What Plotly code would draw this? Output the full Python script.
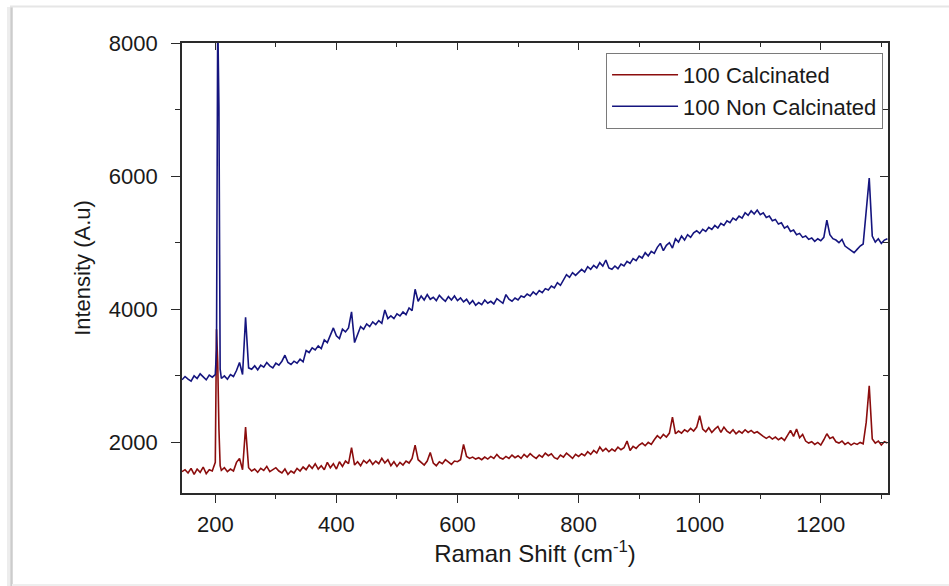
import plotly.graph_objects as go

# Raman shift grid (cm^-1)
raman_shift = (list(range(145, 201, 5)) + [202, 204, 206, 208] + list(range(210, 1311, 5)))

calcinated = [
    1560, 1590, 1540, 1610, 1520, 1600, 1550, 1630, 1530, 1590, 1570, 1700,
    3700, 3200, 2200, 1650,
    1580, 1620, 1560, 1600, 1570, 1700, 1760, 1590, 2230, 1620,
    1570, 1600, 1550, 1610, 1580, 1640, 1560, 1590, 1620, 1570,
    1540, 1600, 1520, 1570, 1540, 1610, 1570, 1630, 1590, 1660,
    1610, 1680, 1600, 1650, 1590, 1700, 1620, 1680, 1600, 1710,
    1640, 1720, 1680, 1920, 1660, 1710, 1650, 1730, 1690, 1740,
    1670, 1720, 1680, 1760, 1690, 1740, 1650, 1710, 1640, 1700,
    1660, 1720, 1690, 1760, 1960, 1740, 1700, 1660, 1720, 1850,
    1690, 1650, 1710, 1680, 1740, 1700, 1670, 1720, 1710, 1740,
    1970, 1790, 1760, 1780, 1750, 1770, 1740, 1780, 1750, 1790,
    1760, 1820, 1770, 1750, 1790, 1760, 1810, 1770, 1800, 1760,
    1820, 1780, 1830, 1790, 1760, 1810, 1780, 1840, 1800, 1830,
    1770, 1750, 1810, 1780, 1840, 1800, 1760, 1820, 1790, 1830,
    1800, 1860, 1820, 1880, 1840, 1930, 1870, 1910, 1860, 1900,
    1870, 1930, 1890, 1920, 2020, 1880, 1940, 1910, 1960, 1990,
    1950, 2000, 1970, 2040, 2100, 2060, 2120, 2080, 2140, 2380,
    2130, 2170, 2140, 2190, 2160, 2210, 2170, 2230, 2400, 2200,
    2160, 2220, 2150, 2200, 2240, 2150, 2230, 2170, 2140, 2190,
    2130, 2170, 2140, 2190, 2150, 2180, 2140, 2160, 2120, 2090,
    2060, 2090, 2050, 2080, 2040, 2070, 2030, 2100, 2180, 2090,
    2200, 2070, 2120, 2020, 1990, 2010, 1970, 2000, 1960, 2040,
    2130, 2060, 2080, 2010, 1990, 2020, 1970, 2000, 1960, 1990,
    1970, 2000, 1980, 2300, 2850, 2050, 1990, 2020, 1960, 2010,
    1990,
]

non_calcinated = [
    2940, 2990, 2950, 2920, 3000, 2960, 3030, 2990, 2940, 3010, 2980, 3020,
    3400, 8400, 7050, 3100,
    2960, 3000, 2950, 3020, 2990, 3080, 3200, 3020, 3880, 3120,
    3100, 3150, 3090, 3160, 3130, 3200, 3150, 3120, 3190, 3160,
    3220, 3310, 3200, 3170, 3220, 3190, 3250, 3210, 3380, 3350,
    3420, 3390, 3450, 3410, 3540, 3500, 3620, 3720, 3600, 3560,
    3700, 3660, 3720, 3960, 3500, 3620, 3740, 3700, 3780, 3740,
    3810, 3770, 3830, 3790, 3990, 3860, 3900, 3860, 3930, 3900,
    3960, 3920, 4020, 3980, 4300, 4120, 4200, 4140, 4220, 4150,
    4180, 4130, 4210, 4160, 4120, 4190, 4140, 4200, 4130, 4170,
    4110, 4150, 4080, 4130, 4060, 4100, 4070, 4140, 4090, 4120,
    4080, 4160, 4120, 4090, 4220, 4150, 4120, 4170, 4140, 4200,
    4180, 4230, 4200, 4260, 4220, 4280, 4250, 4310, 4290, 4350,
    4320, 4400, 4360, 4440, 4520, 4480, 4550, 4510, 4560, 4600,
    4560, 4640, 4600, 4660, 4620, 4700, 4650, 4740, 4620, 4600,
    4650, 4610, 4680, 4650, 4720, 4690, 4760, 4730, 4800, 4770,
    4850, 4800, 4870, 4840, 4930, 4990, 4880, 4960, 5000, 4920,
    5060, 5010, 5100, 5040, 5120, 5080, 5150, 5180, 5140, 5200,
    5170, 5230, 5200, 5260, 5220, 5290, 5260, 5330, 5300, 5370,
    5340, 5400, 5370, 5450, 5410, 5480, 5430, 5490, 5420, 5450,
    5380, 5400, 5330, 5350, 5280, 5300, 5220, 5250, 5170, 5190,
    5120, 5140, 5080, 5100, 5050, 5070, 5020, 5060, 5030, 5080,
    5340, 5120, 5060, 5040, 5000, 5050, 4950, 4920, 4880, 4850,
    4900, 4950, 4980, 5500, 5970, 5100, 5010, 5060, 4990, 5040,
    5060,
]

series_names = ["100 Calcinated", "100 Non Calcinated"]
x_range = [145, 1311]
y_range = [1240, 8000]

FONT = "Arial, 'Liberation Sans', sans-serif"
AXC = "#2a2a2a"

fig = go.Figure()
fig.add_trace(go.Scatter(x=raman_shift, y=calcinated, mode="lines", name=series_names[0],
                         line=dict(color="#8B0D0D", width=1.6)))
# second series on the mirrored (top/right) axes, which share exactly the same ranges
fig.add_trace(go.Scatter(x=raman_shift, y=non_calcinated, mode="lines", name=series_names[1],
                         xaxis="x2", yaxis="y2",
                         line=dict(color="#15157F", width=1.6)))

common_x = dict(range=x_range, dtick=200, tick0=0, showgrid=False, zeroline=False,
                linecolor=AXC, linewidth=1.6, tickcolor=AXC, tickwidth=1.4)
common_y = dict(range=y_range, dtick=2000, tick0=0, showgrid=False, zeroline=False,
                linecolor=AXC, linewidth=1.6, tickcolor=AXC, tickwidth=1.4)

fig.update_layout(
    width=949, height=586,
    paper_bgcolor="white", plot_bgcolor="white",
    margin=dict(l=182, r=61, t=43, b=93),
    font=dict(family=FONT, color="#1a1a1a"),
    xaxis=dict(**common_x, showline=True, ticks="outside", ticklen=8,
               minor=dict(dtick=100, tick0=0, ticks="outside", ticklen=4, tickcolor=AXC, tickwidth=1.2),
               tickfont=dict(size=22), ticklabelstandoff=3,
               title=dict(text="Raman Shift (cm<sup>-1</sup>)", font=dict(size=24), standoff=8)),
    yaxis=dict(**common_y, showline=True, ticks="outside", ticklen=9,
               minor=dict(dtick=1000, tick0=0, ticks="outside", ticklen=5, tickcolor=AXC, tickwidth=1.2),
               tickfont=dict(size=22), ticklabelstandoff=9,
               title=dict(text="Intensity (A.u)", font=dict(size=22), standoff=12)),
    xaxis2=dict(**common_x, overlaying="x", side="top", anchor="y2", showline=True,
                ticks="inside", ticklen=7, showticklabels=False,
                minor=dict(dtick=100, tick0=0, ticks="inside", ticklen=4, tickcolor=AXC, tickwidth=1.2)),
    yaxis2=dict(**common_y, overlaying="y", side="right", anchor="x2", showline=True,
                ticks="inside", ticklen=8, showticklabels=False,
                minor=dict(dtick=1000, tick0=0, ticks="inside", ticklen=5, tickcolor=AXC, tickwidth=1.2)),
    legend=dict(x=0.993, y=0.978, xanchor="right", yanchor="top",
                bgcolor="white", bordercolor="#7a7a7a", borderwidth=1,
                font=dict(size=22), tracegroupgap=0, itemwidth=66),
    showlegend=True,
)

# screenshot-like frame around the picture
H = 450.0
W = 706.0
def px_x(p):
    return (p - 182) / W
def px_y(p):
    return (493 - p) / H

frame = [
    (px_x(8.5), px_y(7), px_x(8.5), px_y(586), "#ededed", 3),
    (px_x(11.5), px_y(7), px_x(11.5), px_y(586), "#cccccc", 2.5),
    (px_x(10), px_y(6.5), px_x(949), px_y(6.5), "#e6e6e6", 2),
    (px_x(12), px_y(585), px_x(949), px_y(585), "#eeeeee", 2),
]
for x0, y0, x1, y1, c, w in frame:
    fig.add_shape(type="line", xref="paper", yref="paper", x0=x0, y0=y0, x1=x1, y1=y1,
                  line=dict(color=c, width=w), layer="below")

fig.write_html("out.html")
